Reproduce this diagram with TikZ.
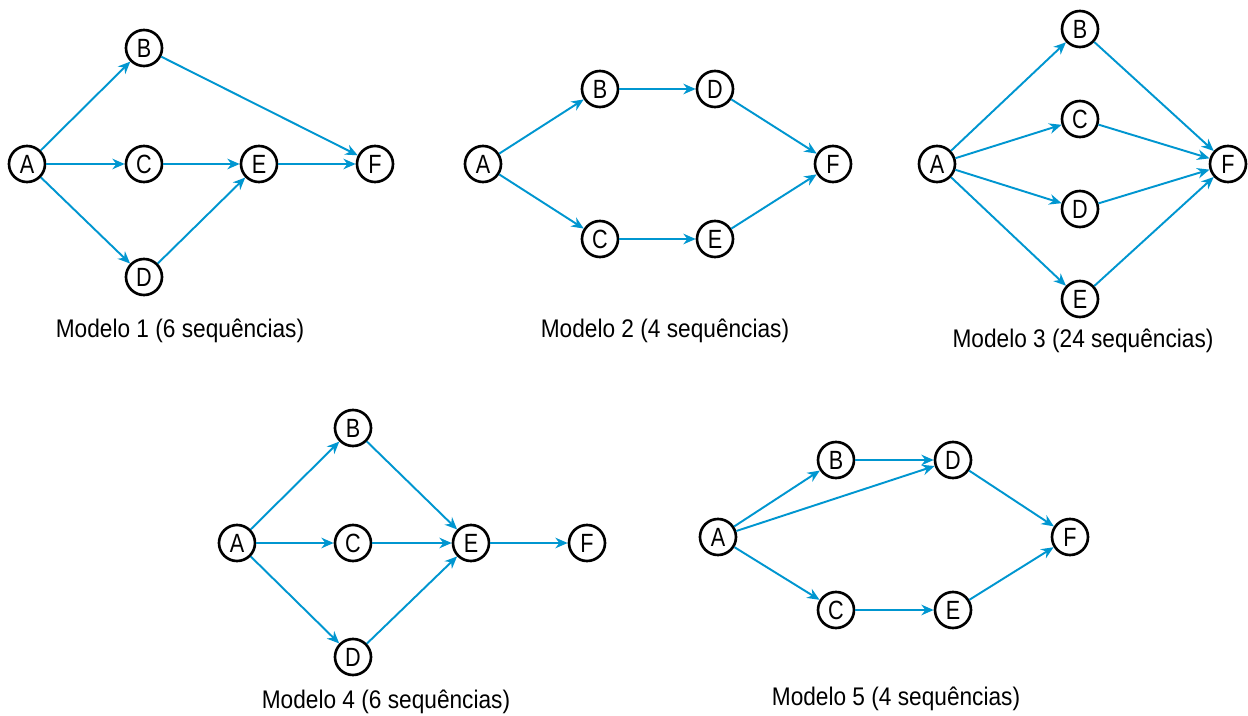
\documentclass[tikz,border=0pt]{standalone}
\usepackage{fontspec}
\setmainfont{Liberation Sans}[FakeStretch=0.82]
\newfontfamily\capfont{Liberation Sans}[FakeStretch=0.89]
\usetikzlibrary{arrows.meta, positioning}
\definecolor{flow}{RGB}{0,150,208}
\tikzstyle{act} = [circle, draw=black, line width=1.5pt, fill=white, minimum size=20.5pt, inner sep=0pt, font=\fontsize{15}{15}\selectfont]
\tikzstyle{line} = [draw=flow, line width=1.1pt, -{Stealth[length=7pt, width=6pt]}]
\tikzstyle{caption} = [font=\capfont\fontsize{14.5}{16}\selectfont]

\begin{document}
\begin{tikzpicture}[x=0.02cm, y=-0.02cm]
        \useasboundingbox (0,0) rectangle (1248,716);

        % Modelo 1
        \node[act] (1A) at (27,164) {A};
        \node[act] (1B) at (144,48) {B};
        \node[act] (1C) at (144,164) {C};
        \node[act] (1D) at (144,277) {D};
        \node[act] (1E) at (259,164) {E};
        \node[act] (1F) at (375,164) {F};
        \path[line] (1A) -- (1B);
        \path[line] (1A) -- (1C);
        \path[line] (1A) -- (1D);
        \path[line] (1B) -- (1F);
        \path[line] (1C) -- (1E);
        \path[line] (1D) -- (1E);
        \path[line] (1E) -- (1F);
        \node[caption] (1cap) at (180,331) {Modelo 1 (6 sequências)};

        % Modelo 2
        \node[act] (2A) at (483,164) {A};
        \node[act] (2B) at (600,89) {B};
        \node[act] (2D) at (715,89) {D};
        \node[act] (2F) at (833,164) {F};
        \node[act] (2C) at (600,239) {C};
        \node[act] (2E) at (715,239) {E};
        \path[line] (2A) -- (2B);
        \path[line] (2B) -- (2D);
        \path[line] (2D) -- (2F);
        \path[line] (2A) -- (2C);
        \path[line] (2C) -- (2E);
        \path[line] (2E) -- (2F);
        \node[caption] (2cap) at (665,331) {Modelo 2 (4 sequências)};

        % Modelo 3
        \node[act] (3A) at (937,164) {A};
        \node[act] (3B) at (1080,29) {B};
        \node[act] (3C) at (1080,119) {C};
        \node[act] (3D) at (1080,209) {D};
        \node[act] (3E) at (1080,299) {E};
        \node[act] (3F) at (1228,164) {F};
        \path[line] (3A) -- (3B);
        \path[line] (3A) -- (3C);
        \path[line] (3A) -- (3D);
        \path[line] (3A) -- (3E);
        \path[line] (3B) -- (3F);
        \path[line] (3C) -- (3F);
        \path[line] (3D) -- (3F);
        \path[line] (3E) -- (3F);
        \node[caption] (3cap) at (1083,341) {Modelo 3 (24 sequências)};

        % Modelo 4
        \node[act] (4A) at (237,543) {A};
        \node[act] (4B) at (353,428) {B};
        \node[act] (4C) at (353,543) {C};
        \node[act] (4D) at (353,657) {D};
        \node[act] (4E) at (471,543) {E};
        \node[act] (4F) at (587,543) {F};
        \path[line] (4A) -- (4B);
        \path[line] (4A) -- (4C);
        \path[line] (4A) -- (4D);
        \path[line] (4B) -- (4E);
        \path[line] (4C) -- (4E);
        \path[line] (4D) -- (4E);
        \path[line] (4E) -- (4F);
        \node[caption] (4cap) at (386,702) {Modelo 4 (6 sequências)};

        % Modelo 5
        \node[act] (5A) at (718,537) {A};
        \node[act] (5B) at (836,460) {B};
        \node[act] (5D) at (953,460) {D};
        \node[act] (5F) at (1070,537) {F};
        \node[act] (5C) at (836,610) {C};
        \node[act] (5E) at (953,610) {E};
        \path[line] (5A) -- (5B);
        \path[line] (5A) -- (5D);
        \path[line] (5B) -- (5D);
        \path[line] (5D) -- (5F);
        \path[line] (5A) -- (5C);
        \path[line] (5C) -- (5E);
        \path[line] (5E) -- (5F);
        \node[caption] (5cap) at (896,699) {Modelo 5 (4 sequências)};
    \end{tikzpicture}
\end{document}
